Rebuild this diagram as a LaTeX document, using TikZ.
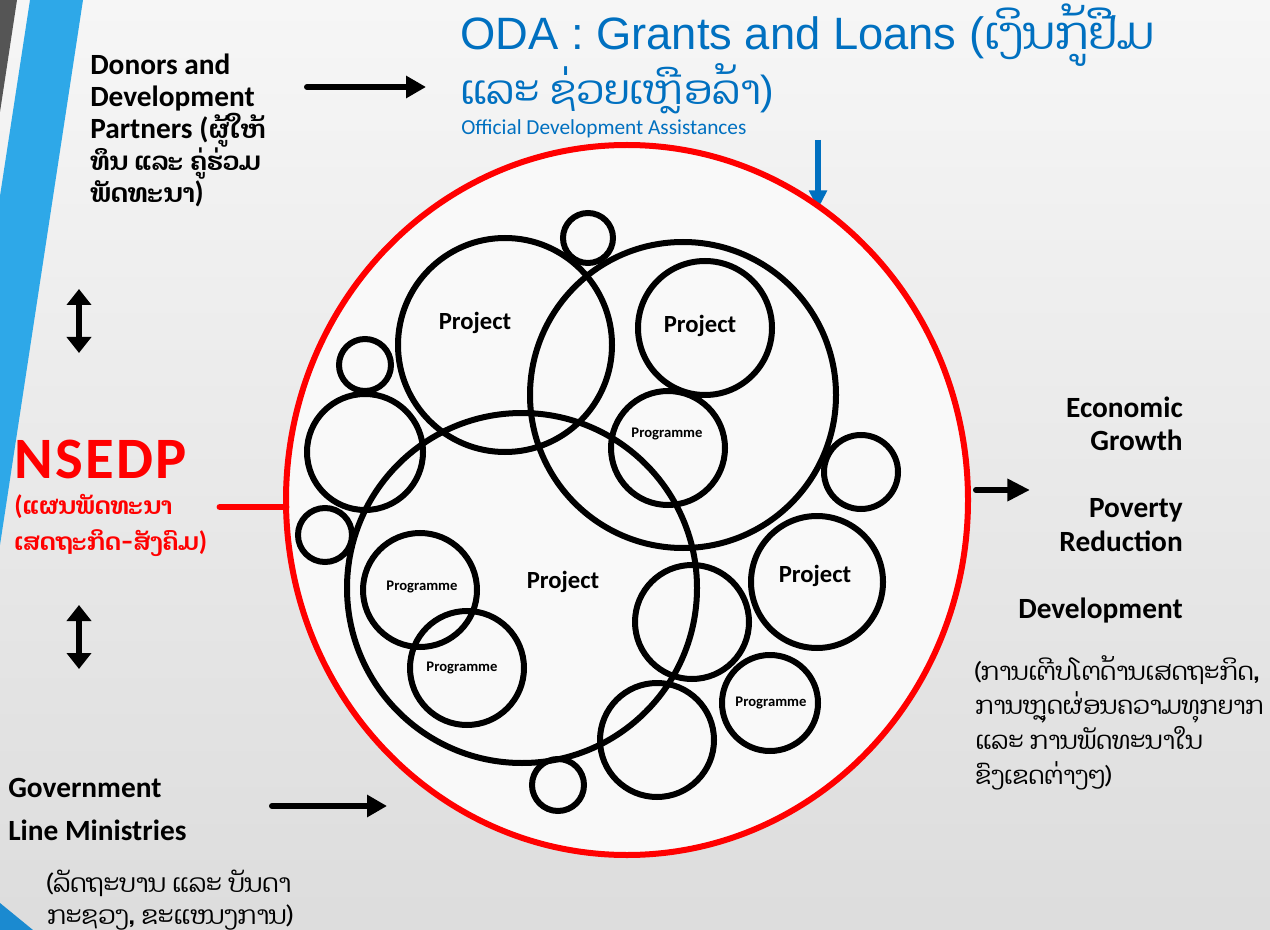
\documentclass[tikz,border=0pt]{standalone}
\usepackage{fontspec}
\setmainfont{Carlito}
\newfontfamily\lao[Script=Lao]{Dhyana}
\newfontfamily\arialf{Liberation Sans}
\usetikzlibrary{arrows.meta}
\definecolor{odablue}{HTML}{0070C0}
\definecolor{bandblue}{HTML}{2EA8E8}
\definecolor{darkband}{HTML}{1B8AD0}
\definecolor{stripgray}{HTML}{555555}
\definecolor{nsred}{HTML}{FF0000}
\tikzset{
  ring/.style={draw=black, line width=4.5pt},
  bigarrow/.style={line width=4.5pt, line cap=round, -{Triangle[length=15pt,width=16pt]}},
  dblarrow/.style={line width=4.2pt, {Triangle[length=12pt,width=18pt]}-{Triangle[length=12pt,width=18pt]}},
  lbl/.style={inner sep=0pt, font=\fontsize{22}{24}\selectfont\bfseries},
  laolbl/.style={font=\fontsize{19}{24}\selectfont\lao\bfseries},
  laotxt/.style={inner sep=0pt, font=\fontsize{18.5}{24}\selectfont\lao},
  projtxt/.style={inner sep=0pt, font=\fontsize{18.5}{20}\selectfont\bfseries},
  progtxt/.style={inner sep=0pt, font=\fontsize{11}{12}\selectfont\bfseries},
}
\begin{document}
\begin{tikzpicture}[x=0.75pt,y=-0.75pt]
\useasboundingbox (0,0) rectangle (1270,930);
% background
\shade[top color=gray!7, bottom color=gray!27] (0,0) rectangle (1270,930);
\fill[stripgray] (0,0) -- (17,0) -- (0,112) -- cycle;
\fill[bandblue] (30,0) -- (83,0) -- (0,545) -- (0,196) -- cycle;
\fill[darkband] (0,903) -- (33,930) -- (0,930) -- cycle;

% Donors
\node[lbl, anchor=base west] (d1) at (90,75) {Donors and};
\node[lbl, anchor=base west] (d2) at (90,107) {Development};
\node[lbl, anchor=base west] (d3) at (90,139) {Partners ({\fontsize{19}{24}\selectfont\lao ຜູ້ໃຫ້}};
\node[lbl, laolbl, anchor=base west] (d4) at (90,171) {ທຶນ ແລະ ຄູ່ຮ່ວມ};
\node[lbl, anchor=base west] (d5) at (90,203) {{\fontsize{19.5}{24}\selectfont\lao ພັດທະນາ})};
\coordinate (a1s) at (307,87);
\coordinate (a1e) at (426,87);
\draw[bigarrow] (a1s) -- (a1e);

% ODA
\node[inner sep=0pt, anchor=base west, text=odablue, font=\fontsize{34}{40}\selectfont\arialf] (o1) at (460,50) {ODA : Grants and Loans ({\lao ເງິນກູ້ຢືມ}};
\node[inner sep=0pt, anchor=base west, text=odablue, font=\fontsize{30.5}{40}\selectfont\arialf] (o2) at (460,105) {{\lao ແລະ ຊ່ວຍເຫຼືອລ້າ})};
\node[inner sep=0pt, anchor=base west, text=odablue, font=\fontsize{16}{18}\selectfont] (o3) at (461,135) {Official Development Assistances};
\coordinate (b1s) at (818,140);
\coordinate (b1e) at (818,209);
\draw[odablue, line width=3.8pt, -{Triangle[length=14pt,width=13pt]}] (b1s) -- (b1e);

% double arrows
\coordinate (v1s) at (79,289);
\coordinate (v1e) at (79,353);
\draw[dblarrow] (v1s) -- (v1e);
\coordinate (v2s) at (79,605);
\coordinate (v2e) at (79,669);
\draw[dblarrow] (v2s) -- (v2e);

% NSEDP
\node[inner sep=0pt, anchor=base west, text=nsred, font=\fontsize{44}{48}\selectfont\bfseries\addfontfeature{LetterSpace=4}] (n1) at (14,478) {NSEDP};
\node[inner sep=0pt, anchor=base west, text=nsred, font=\fontsize{20}{24}\selectfont\bfseries] (n2) at (14,514) {({\fontsize{18}{24}\selectfont\lao ແຜນພັດທະນາ}};
\node[inner sep=0pt, anchor=base west, text=nsred, font=\fontsize{20}{24}\selectfont\bfseries] (n3) at (14,550) {{\fontsize{18}{24}\selectfont\lao ເສດຖະກິດ-ສັງຄົມ})};

% big red circle
\coordinate (RC) at (627,500);
\fill[white!95!gray] (RC) ellipse[x radius=341, y radius=355];
\coordinate (rl1) at (220,507);
\coordinate (rl2) at (286,507);
\draw[nsred, line width=5.2pt, line cap=round] (rl1) -- (rl2);
\draw[nsred, line width=4.5pt] (RC) ellipse[x radius=341, y radius=355];

% circles
\coordinate (cA) at (505,345);
\coordinate (cB) at (683,395);
\coordinate (cC) at (705,328);
\coordinate (cD) at (668,448);
\coordinate (cE) at (365,365);
\coordinate (cF) at (365,452);
\coordinate (cG) at (325,535);
\coordinate (cH) at (522,588);
\coordinate (cI) at (420,590);
\coordinate (cJ) at (467,668);
\coordinate (cK) at (692,622);
\coordinate (cL) at (817,582);
\coordinate (cM) at (861,472);
\coordinate (cN) at (770,703);
\coordinate (cO) at (657,740);
\coordinate (cP) at (558,785);
\coordinate (cT) at (588,238);
\draw[ring] (cT) circle[radius=25];
\draw[ring] (cA) circle[radius=107];
\draw[ring] (cB) circle[radius=153];
\draw[ring] (cC) circle[radius=67];
\draw[ring] (cD) circle[radius=57];
\draw[ring] (cE) circle[radius=26];
\draw[ring] (cF) circle[radius=58];
\draw[ring] (cG) circle[radius=27];
\draw[ring] (cH) circle[radius=175];
\draw[ring] (cI) circle[radius=57];
\draw[ring] (cJ) circle[radius=57];
\draw[ring] (cK) circle[radius=57];
\draw[ring] (cL) circle[radius=66];
\draw[ring] (cM) circle[radius=37];
\draw[ring] (cN) circle[radius=48];
\draw[ring] (cO) circle[radius=57];
\draw[ring] (cP) circle[radius=26];

\node[projtxt] (tA) at (475,323) {Project};
\node[projtxt] (tC) at (700,326) {Project};
\node[projtxt] (tH) at (563,582) {Project};
\node[projtxt] (tL) at (815,576) {Project};
\node[progtxt] (tD) at (667,434) {Programme};
\node[progtxt] (tI) at (422,587) {Programme};
\node[progtxt] (tJ) at (462,668) {Programme};
\node[progtxt] (tN) at (771,703) {Programme};

% right side
\coordinate (r1s) at (976,490);
\coordinate (r1e) at (1030,490);
\draw[line width=4.5pt, line cap=round, -{Triangle[length=17pt,width=16pt]}] (r1s) -- (r1e);
\node[lbl, anchor=base east] (e1) at (1183,417) {Economic};
\node[lbl, anchor=base east] (e2) at (1183,450) {Growth};
\node[lbl, anchor=base east] (e3) at (1183,517) {Poverty};
\node[lbl, anchor=base east] (e4) at (1183,551) {Reduction};
\node[lbl, anchor=base east] (e5) at (1183,618) {Development};
\node[laotxt, anchor=base west] (l1) at (975,680) {(ການເຕີບໂຕດ້ານເສດຖະກິດ,};
\node[laotxt, anchor=base west] (l2) at (975,714) {ການຫຼຸດຜ່ອນຄວາມທຸກຍາກ};
\node[laotxt, anchor=base west] (l3) at (975,749) {ແລະ ການພັດທະນາໃນ};
\node[laotxt, anchor=base west] (l4) at (975,784) {ຂົງເຂດຕ່າງໆ)};

% government
\node[lbl, anchor=base west] (g1) at (8,797) {Government};
\node[lbl, anchor=base west] (g2) at (8,840) {Line Ministries};
\coordinate (g3s) at (272,806);
\coordinate (g3e) at (387,806);
\draw[bigarrow] (g3s) -- (g3e);
\node[laotxt, font=\fontsize{19}{24}\selectfont\lao, anchor=base west] (g4) at (47,892) {(ລັດຖະບານ ແລະ ບັນດາ};
\node[laotxt, font=\fontsize{19}{24}\selectfont\lao, anchor=base west] (g5) at (47,924) {ກະຊວງ, ຂະແໜງການ)};
\end{tikzpicture}
\end{document}
